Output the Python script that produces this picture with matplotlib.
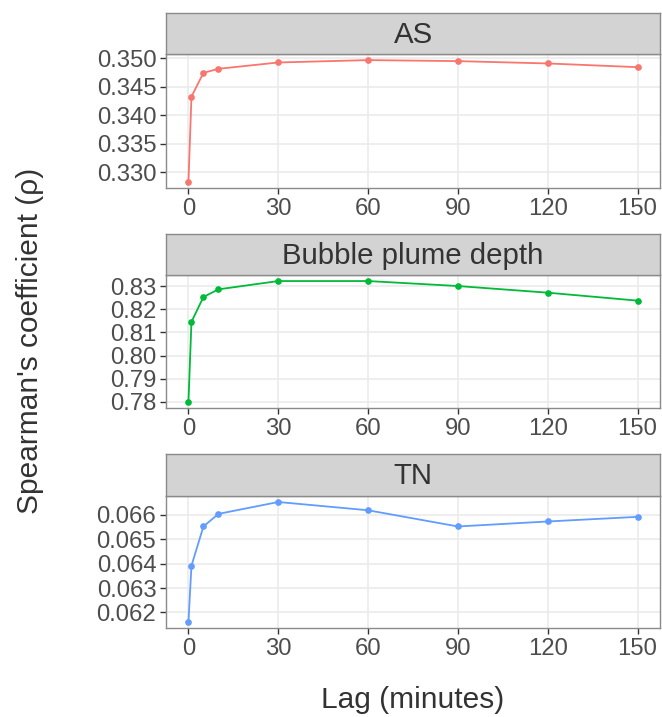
import numpy as np
import matplotlib
matplotlib.use("Agg")
import matplotlib.pyplot as plt

plt.rcParams['font.family'] = ['Liberation Sans', 'DejaVu Sans']

# lag values (minutes) and Spearman's rho per variable
lags = [0, 1, 5, 10, 30, 60, 90, 120, 150]
rho_as = [0.32835, 0.34329, 0.34747, 0.34818, 0.34929, 0.34971, 0.34953, 0.34912, 0.34847]
rho_bubble = [0.7800, 0.81453, 0.82527, 0.82857, 0.83215, 0.83215, 0.83000, 0.82713, 0.82370]
rho_tn = [0.061607, 0.063912, 0.065525, 0.066041, 0.066529, 0.066190, 0.065525, 0.065730, 0.065920]

panel_names = ['AS', 'Bubble plume depth', 'TN']
panel_cols = ['#F8766D', '#00BA38', '#619CFF']
panel_ticks = [np.arange(0.330, 0.3501, 0.005), np.arange(0.78, 0.8301, 0.01), np.arange(0.062, 0.06601, 0.001)]
panel_fmt = ['{:.3f}', '{:.2f}', '{:.3f}']
x_ticks = [0, 30, 60, 90, 120, 150]

W, H = 662, 717
fig = plt.figure(figsize=(W / 100, H / 100), dpi=100)

# pixel boxes: (strip top, panel top, panel bottom)
boxes = [(13, 54, 188), (234, 275, 408), (454, 496, 628)]
left, right = 166, 660

def fbox(x0, y0, x1, y1):
    return [x0 / W, 1 - y1 / H, (x1 - x0) / W, (y1 - y0) / H]

for k, vals in enumerate([rho_as, rho_bubble, rho_tn]):
    st, pt, pb = boxes[k]
    ax = fig.add_axes(fbox(left, pt, right, pb))
    ax.plot(lags, vals, color=panel_cols[k], lw=1.3, marker='o', ms=3.8, zorder=3)

    lo, hi = min(vals), max(vals)
    pad = (hi - lo) * 0.05
    ax.set_ylim(lo - pad, hi + pad)
    ax.set_xlim(-7.5, 157.5)
    ax.set_xticks(x_ticks)
    ax.set_yticks(panel_ticks[k])
    ax.set_yticklabels([panel_fmt[k].format(v) for v in panel_ticks[k]])

    ax.grid(True, color='#EBEBEB', lw=1.2)
    ax.set_axisbelow(True)
    for s in ax.spines.values():
        s.set_color('#8A8A8A')
        s.set_linewidth(1.0)
    ax.tick_params(length=4, width=1.0, color='#333333', labelsize=17.2,
                   labelcolor='#4D4D4D', pad=3)

    # facet strip
    sax = fig.add_axes(fbox(left, st, right, pt))
    sax.set_facecolor('#D3D3D3')
    sax.set_xticks([])
    sax.set_yticks([])
    for s in sax.spines.values():
        s.set_color('#8A8A8A')
        s.set_linewidth(1.0)
    sax.text(0.5, 0.47, panel_names[k], ha='center', va='center', fontsize=21.2,
             color='#333333', transform=sax.transAxes)

fig.text((left + right) / 2 / W, 1 - 708 / H, 'Lag (minutes)', ha='center', va='baseline',
         fontsize=21.5, color='#333333')
fig.text(30 / W, 1 - 341 / H, "Spearman's coefficient (\u03c1)", ha='center', va='center',
         rotation=90, fontsize=21.5, color='#333333')

fig.savefig('out.png', dpi=100)
